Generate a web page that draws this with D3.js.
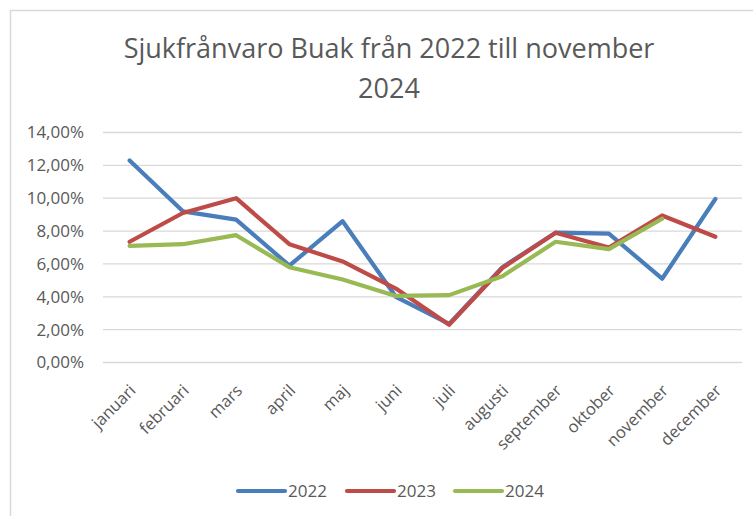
<!DOCTYPE html>
<html>
<head>
<meta charset="utf-8">
<script src="https://cdn.jsdelivr.net/npm/d3@7"></script>
<style>
  body { margin: 0; background: #fff; }
  svg { display: block; font-family: "Open Sans", "Liberation Sans", sans-serif; }
</style>
</head>
<body>
<svg id="chart" width="753" height="516"></svg>
<script>
// chart data
const months = ['januari', 'februari', 'mars', 'april', 'maj', 'juni', 'juli', 'augusti', 'september', 'oktober', 'november', 'december'];
const years = ['2022', '2023', '2024'];
const values2022 = [12.3, 9.2, 8.7, 5.9, 8.6, 4.0, 2.35, 5.8, 7.9, 7.85, 5.1, 9.95];
const values2023 = [7.35, 9.1, 10.0, 7.2, 6.15, 4.5, 2.3, 5.75, 7.9, 7.0, 8.95, 7.65];
const values2024 = [7.1, 7.2, 7.75, 5.8, 5.05, 4.05, 4.1, 5.25, 7.35, 6.9, 8.75, null];
const yTicks = [0, 2, 4, 6, 8, 10, 12, 14];
const colors = ['#4a7ebb', '#be4b48', '#98b954'];

const series = [values2022, values2023, values2024];

const svg = d3.select('#chart');
const margin = { top: 132.5, right: 11, bottom: 153.5, left: 103 };
const width = 753 - margin.left - margin.right;
const height = 516 - margin.top - margin.bottom;

// outer chart border
svg.append('path')
  .attr('d', 'M10.5,520 V10.5 H760')
  .attr('fill', 'none')
  .attr('stroke', '#d9d9d9')
  .attr('stroke-width', 1.5);

// title
const title = svg.append('text')
  .attr('text-anchor', 'middle')
  .attr('fill', '#595959')
  .style('font-size', '27px');
title.append('tspan').attr('x', 389).attr('y', 58).text('Sjukfrånvaro Buak från 2022 till november');
title.append('tspan').attr('x', 389).attr('y', 98).text('2024');

const g = svg.append('g').attr('transform', `translate(${margin.left},${margin.top})`);

const x = d3.scaleBand().domain(months).range([0, width]);
const y = d3.scaleLinear().domain([0, 14]).range([height, 0]);

// gridlines
g.selectAll('.grid')
  .data(yTicks)
  .enter().append('line')
  .attr('class', 'grid')
  .attr('x1', 0).attr('x2', width)
  .attr('y1', d => y(d)).attr('y2', d => y(d))
  .attr('stroke', '#d9d9d9')
  .attr('stroke-width', 1.3);

// y axis
const yAxis = d3.axisLeft(y)
  .tickValues(yTicks)
  .tickSize(0)
  .tickPadding(19)
  .tickFormat(d => d.toFixed(2).replace('.', ',') + '%');

g.append('g')
  .attr('class', 'y-axis')
  .call(yAxis)
  .attr('font-size', 17)
  .attr('font-family', '"Open Sans", sans-serif')
  .call(a => a.select('.domain').remove())
  .selectAll('text')
  .attr('fill', '#595959');

// x axis
const xAxis = d3.axisBottom(x).tickSize(0).tickPadding(0);

g.append('g')
  .attr('class', 'x-axis')
  .attr('transform', `translate(0,${height})`)
  .call(xAxis)
  .attr('font-size', 16.5)
  .attr('font-family', '"Open Sans", sans-serif')
  .call(a => a.select('.domain').remove())
  .selectAll('text')
  .attr('fill', '#595959')
  .style('text-anchor', 'end')
  .attr('dy', '0.35em')
  .attr('transform', 'translate(3,25) rotate(-45)');

// lines
const line = d3.line()
  .defined(d => d != null)
  .x((d, i) => x(months[i]) + x.bandwidth() / 2)
  .y(d => y(d));

g.selectAll('.series')
  .data(series)
  .enter().append('path')
  .attr('class', 'series')
  .attr('fill', 'none')
  .attr('stroke', (d, i) => colors[i])
  .attr('stroke-width', 4.2)
  .attr('stroke-linejoin', 'round')
  .attr('stroke-linecap', 'round')
  .attr('d', line);

// legend
const legendX = [238, 347, 455];
const legend = svg.append('g').attr('transform', 'translate(0,491)');
const item = legend.selectAll('.item')
  .data(years)
  .enter().append('g')
  .attr('class', 'item')
  .attr('transform', (d, i) => `translate(${legendX[i]},0)`);

item.append('line')
  .attr('x1', 0).attr('x2', 47)
  .attr('stroke', (d, i) => colors[i])
  .attr('stroke-width', 4.2)
  .attr('stroke-linecap', 'round');

item.append('text')
  .attr('x', 50)
  .attr('dy', '0.36em')
  .attr('fill', '#595959')
  .style('font-size', '17px')
  .text(d => d);
</script>
</body>
</html>
